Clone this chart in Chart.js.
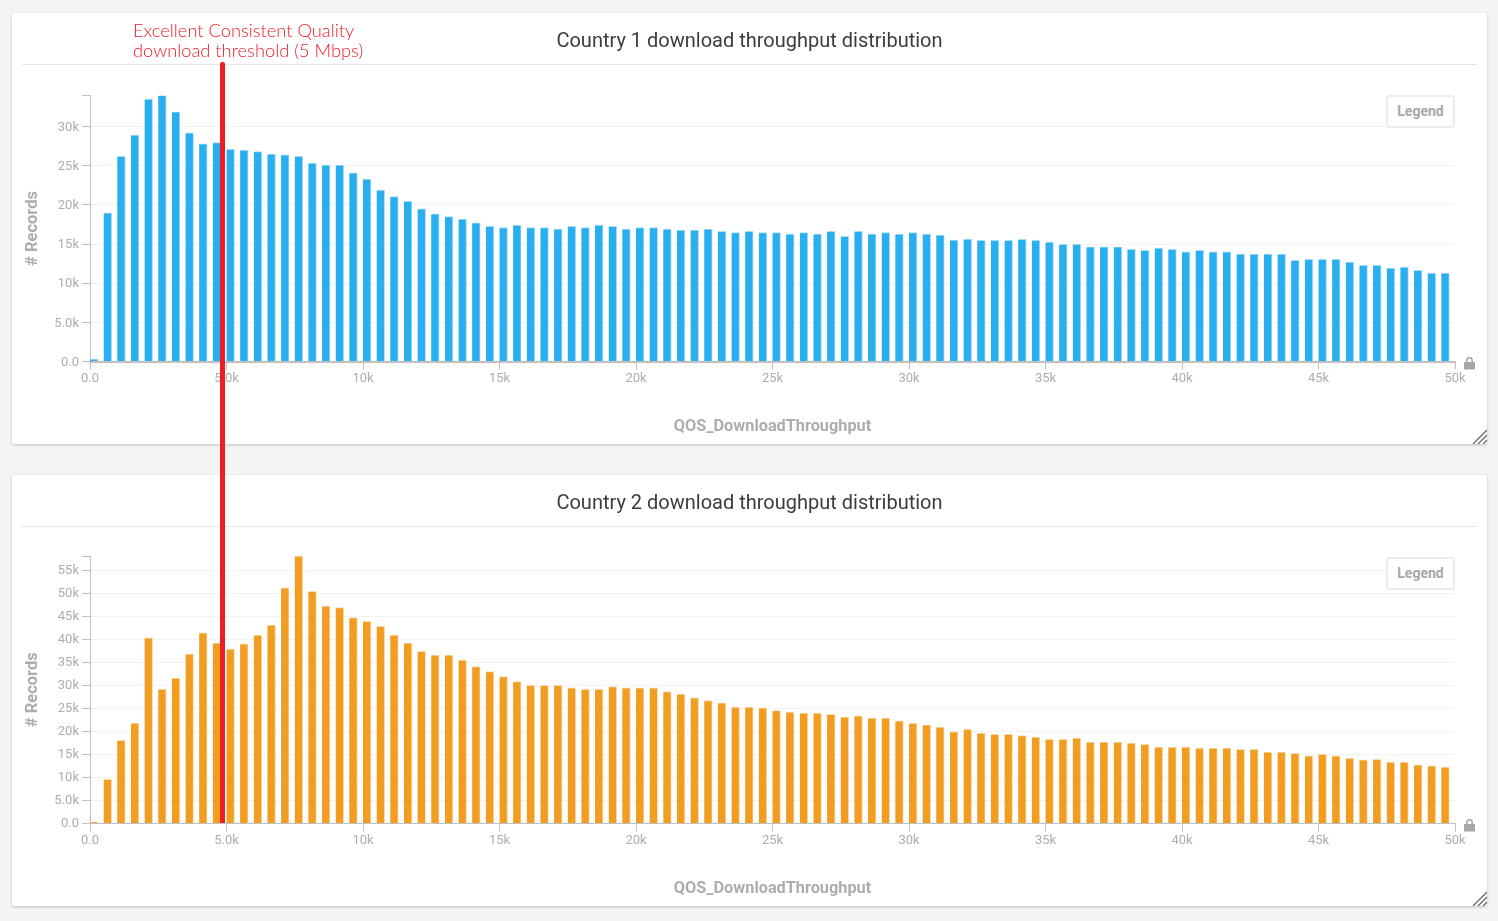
<!DOCTYPE html>
<html>
<head>
<meta charset="utf-8">
<title>Download throughput distribution</title>
<script src="https://cdn.jsdelivr.net/npm/chart.js@4"></script>
<style>
  html, body { margin: 0; padding: 0; background: #f4f4f4; overflow: hidden; }
  body { width: 1498px; height: 921px; position: relative; font-family: Roboto, sans-serif; }
  .card { position: absolute; left: 12px; width: 1475px; height: 431px; background: #fff;
          border-radius: 2px; box-shadow: 0 1px 3px rgba(0,0,0,.22); }
  .card canvas { position: absolute; left: 0; top: 0; }
  .heading { position: absolute; left: 0; width: 100%; top: 13px; line-height: 28px; text-align: center;
             font-size: 20px; color: #3c3c3c; }
  .rule { position: absolute; left: 10px; right: 10px; top: 51px; height: 1px; background: #e6e6e6; }
  .legend-btn { position: absolute; left: 1374px; top: 82px; width: 65px; height: 29px; line-height: 29px;
                border: 2px solid #ececec; border-radius: 3px; background: #fff; text-align: center;
                font-size: 14px; font-weight: 700; color: #a8a8a8; }
  .lock { position: absolute; left: 1451px; top: 343px; }
  .grip { position: absolute; right: 0; bottom: 0; }
  #thresholdLine { position: absolute; left: 220px; top: 62px; width: 5px; height: 761px; background: #ee1c25;
                   border-radius: 2px 2px 0 0; }
  #thresholdText { position: absolute; left: 133px; top: 20px; font: 300 18.3px/20px Lato, sans-serif; color: #ee1c25; }
</style>
</head>
<body>
<div class="card" style="top:13px">
  <canvas id="chart1" width="1475" height="431"></canvas>
  <div class="heading">Country 1 download throughput distribution</div>
  <div class="rule"></div>
  <div class="legend-btn">Legend</div>
  <svg class="lock" width="13" height="14" viewBox="0 0 13 14"><path d="M3 6V4.5a3.5 3.5 0 0 1 7 0V6h2v7.5H1V6zm1.6 0h3.8V4.5a1.9 1.9 0 0 0-3.8 0z" fill="#a6a6a6" fill-rule="evenodd"/></svg>
  <svg class="grip" width="15" height="15" viewBox="0 0 15 15"><path d="M1 15L15 1M6 15L15 6M11 15L15 11" stroke="#666" stroke-width="1.3"/></svg>
</div>
<div class="card" style="top:475px">
  <canvas id="chart2" width="1475" height="431"></canvas>
  <div class="heading">Country 2 download throughput distribution</div>
  <div class="rule"></div>
  <div class="legend-btn">Legend</div>
  <svg class="lock" width="13" height="14" viewBox="0 0 13 14"><path d="M3 6V4.5a3.5 3.5 0 0 1 7 0V6h2v7.5H1V6zm1.6 0h3.8V4.5a1.9 1.9 0 0 0-3.8 0z" fill="#a6a6a6" fill-rule="evenodd"/></svg>
  <svg class="grip" width="15" height="15" viewBox="0 0 15 15"><path d="M1 15L15 1M6 15L15 6M11 15L15 11" stroke="#666" stroke-width="1.3"/></svg>
</div>
<div id="thresholdLine"></div>
<div id="thresholdText">Excellent Consistent Quality<br>download threshold (5 Mbps)</div>

<script>
// records per 500-wide throughput bin
const country1Values = [
  300, 19000, 26200, 28900, 33500, 34000, 31900, 29200, 27800, 27950,
  27100, 27000, 26800, 26500, 26400, 26200, 25350, 25100, 25100, 24100,
  23300, 21900, 21050, 20450, 19500, 18850, 18500, 18200, 17700, 17250,
  17100, 17430, 17100, 17100, 16920, 17260, 17100, 17430, 17260, 16920,
  17100, 17100, 16920, 16790, 16790, 16920, 16620, 16450, 16620, 16450,
  16450, 16280, 16450, 16280, 16620, 15980, 16620, 16280, 16450, 16280,
  16450, 16280, 16150, 15510, 15620, 15470, 15470, 15470, 15600, 15470,
  15260, 14960, 14960, 14660, 14660, 14660, 14320, 14190, 14490, 14320,
  14020, 14190, 14020, 14020, 13720, 13720, 13720, 13720, 12910, 13040,
  13040, 13040, 12700, 12270, 12270, 11930, 12060, 11630, 11290, 11290
];
const country2Values = [
  290, 9580, 18060, 21800, 40300, 29200, 31600, 36800, 41400, 39200,
  37900, 39000, 40900, 43100, 51200, 58100, 50400, 47200, 46900, 44700,
  43900, 42800, 40900, 39200, 37400, 36600, 36600, 35500, 34100, 33000,
  31900, 30800, 30000, 30000, 30000, 29450, 29150, 29150, 29730, 29450,
  29450, 29450, 28650, 28100, 27300, 26700, 26200, 25300, 25300, 25100,
  24500, 24200, 24000, 24000, 23700, 23100, 23400, 22900, 22900, 22300,
  21750, 21450, 20960, 19900, 20430, 19630, 19360, 19360, 19070, 18780,
  18280, 18280, 18570, 17700, 17700, 17700, 17480, 17190, 16610, 16610,
  16610, 16390, 16390, 16390, 16100, 16100, 15520, 15520, 15230, 14720,
  15010, 14720, 14140, 13850, 13920, 13340, 13340, 12760, 12550, 12260
];
const yTicks1 = [0, 5000, 10000, 15000, 20000, 25000, 30000];
const yTicks2 = [0, 5000, 10000, 15000, 20000, 25000, 30000, 35000, 40000, 45000, 50000, 55000];
const xTicks = [0, 5000, 10000, 15000, 20000, 25000, 30000, 35000, 40000, 45000, 50000];
const yMax1 = 33970;
const yMax2 = 58100;

const BIN_SIZE = 500;
const BAR_SHIFT = 146; // bars sit at the left of their bin, not the middle

const AXIS_COLOR = '#c0c0c0';
const GRID_COLOR = '#f2f2f2';
const LABEL_COLOR = '#adadad';

function kLabel(value) {
  if (value === 0) return '0.0';
  if (value < 10000) return (value / 1000).toFixed(1) + 'k';
  return (value / 1000) + 'k';
}

function buildChart(canvasId, values, fill, edge, yMax, yTicks, baseWidth, plotTop, labelNudge) {
  const ctx = document.getElementById(canvasId).getContext('2d');
  return new Chart(ctx, {
    type: 'bar',
    data: {
      datasets: [{
        data: values.map((v, i) => ({ x: i * BIN_SIZE + BAR_SHIFT, y: v })),
        backgroundColor: fill,
        borderColor: edge,
        borderWidth: { top: 1, right: 1, left: 0, bottom: 0 },
        borderSkipped: false,
        barThickness: 8
      }]
    },
    options: {
      responsive: false,
      animation: false,
      layout: { padding: { top: plotTop, right: 32, bottom: 0, left: 0 } },
      plugins: { legend: { display: false }, title: { display: false }, tooltip: { enabled: false } },
      scales: {
        x: {
          type: 'linear',
          offset: false,
          min: 0,
          max: 50000,
          afterBuildTicks: axis => { axis.ticks = xTicks.map(v => ({ value: v })); },
          afterFit: axis => { axis.height = 82.5; },
          border: { display: true, color: AXIS_COLOR, width: baseWidth },
          grid: { offset: false, drawOnChartArea: false, drawTicks: true, tickLength: 8, tickColor: AXIS_COLOR },
          ticks: {
            autoSkip: false, maxRotation: 0, padding: 1, color: LABEL_COLOR,
            font: { family: 'Roboto', size: 13 },
            callback: kLabel
          },
          title: {
            display: true, text: 'QOS_DownloadThroughput', color: LABEL_COLOR,
            font: { family: 'Roboto', size: 16.3, weight: 'bold' },
            padding: { top: 0, bottom: 7 }
          }
        },
        y: {
          type: 'linear',
          min: 0,
          max: yMax,
          afterBuildTicks: axis => { axis.ticks = yTicks.concat(yMax).map(v => ({ value: v })); },
          afterFit: axis => { axis.width = 78; },
          border: { display: true, color: AXIS_COLOR, width: 1 },
          grid: {
            color: c => (c.tick && c.tick.value === yMax) || (c.tick && c.tick.value === 0) ? 'rgba(0,0,0,0)' : GRID_COLOR,
            lineWidth: 1, drawTicks: true, tickLength: 8, tickColor: AXIS_COLOR
          },
          ticks: {
            autoSkip: false, padding: 3, color: LABEL_COLOR, labelOffset: labelNudge,
            font: { family: 'Roboto', size: 13 },
            callback: v => (v === yMax ? '' : kLabel(v))
          },
          title: {
            display: true, text: '# Records', color: LABEL_COLOR,
            font: { family: 'Roboto', size: 16.5, weight: 'bold' },
            padding: { top: 11, bottom: 0 }
          }
        }
      }
    }
  });
}

buildChart('chart1', country1Values, '#29aeef', '#a5dcf8', yMax1, yTicks1, 2, 82.5, 1);
buildChart('chart2', country2Values, '#f09d22', '#f9d8a8', yMax2, yTicks2, 1, 81, 0);
</script>
</body>
</html>
